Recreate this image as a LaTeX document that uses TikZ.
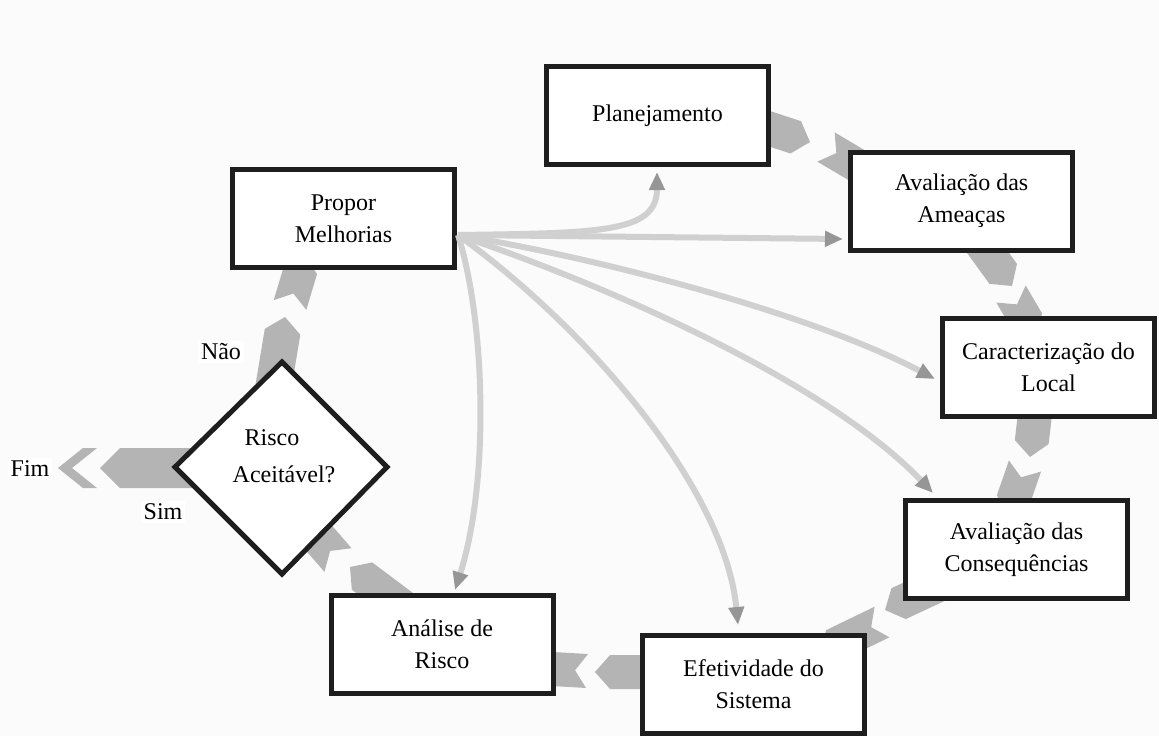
\documentclass[tikz,border=0pt]{standalone}
\usepackage{fontspec}
\setmainfont{Liberation Serif}
\usetikzlibrary{arrows.meta,calc}
\definecolor{bandgray}{RGB}{180,180,180}
\definecolor{fangray}{RGB}{208,208,208}
\definecolor{headgray}{RGB}{150,150,150}
\definecolor{bgcol}{RGB}{251,251,251}
\definecolor{boxline}{RGB}{30,30,30}
% #1 back coordinate, #2 tip coordinate, #3 half width, #4 notch depth, #5 tip length
\newcommand\bandpiece[5]{%
  \path ($(#2)!#5!(#1)$) coordinate (pP);
  \fill[band] ($(#1)!#3!90:(#2)$) -- ($(#1)!#4!(#2)$) -- ($(#1)!#3!-90:(#2)$)
     -- ($(pP)!#3!-90:(#2)$) -- (#2) -- ($(pP)!#3!90:(#2)$) -- cycle;}
\tikzset{
  band/.style={fill=bandgray},
  fan/.style={draw=fangray, line width=6pt, -{Triangle[length=18pt,width=15pt,color=headgray]}},
  box/.style={draw=boxline, line width=5pt, fill=white, minimum width=222pt, minimum height=98pt,
     align=center, font=\fontsize{24}{32}\selectfont, inner sep=0pt},
  lab/.style={fill=white, font=\fontsize{24}{32}\selectfont, inner sep=3pt},
  txt/.style={font=\fontsize{24}{32}\selectfont, inner sep=0pt}
}
\begin{document}
\begin{tikzpicture}[x=1pt,y=-1pt]
\fill[bgcol] (0,0) rectangle (1159,736);
\useasboundingbox (0,0) rectangle (1159,736);

% ---- coordinates for the grey chevron bands
\coordinate (c1a) at (755,124); \coordinate (c1b) at (810,142);
\coordinate (c1c) at (826,147); \coordinate (c1d) at (885,182);
\coordinate (c2a) at (975,235); \coordinate (c2b) at (1012,286);
\coordinate (c2c) at (1011,294); \coordinate (c2d) at (1035,335);
\coordinate (c3a) at (1036,405); \coordinate (c3b) at (1030,457);
\coordinate (c3c) at (1025,466); \coordinate (c3d) at (1008,515);
\coordinate (c4a) at (945,582); \coordinate (c4b) at (885,610);
\coordinate (c4c) at (882,622); \coordinate (c4d) at (820,652);
\coordinate (c5a) at (655,672); \coordinate (c5b) at (595,672);
\coordinate (c5c) at (587,671); \coordinate (c5d) at (535,668);
\coordinate (c6a) at (410,612); \coordinate (c6b) at (350,567);
\coordinate (c6c) at (338,560); \coordinate (c6d) at (305,522);
\coordinate (c7a) at (272,395); \coordinate (c7b) at (285,317);
\coordinate (c7c) at (290,305); \coordinate (c7d) at (305,255);
\coordinate (c8a) at (195,468); \coordinate (c8b) at (100,468);
\coordinate (c8c) at (97,468);  \coordinate (c8d) at (58,468);

\bandpiece{c1a}{c1b}{17pt}{0pt}{15pt}
\bandpiece{c1c}{c1d}{17pt}{12pt}{15pt}
\bandpiece{c2a}{c2b}{17pt}{0pt}{15pt}
\bandpiece{c2c}{c2d}{17pt}{12pt}{15pt}
\bandpiece{c3a}{c3b}{17pt}{0pt}{15pt}
\bandpiece{c3c}{c3d}{17pt}{12pt}{15pt}
\bandpiece{c4a}{c4b}{17pt}{0pt}{15pt}
\bandpiece{c4c}{c4d}{17pt}{12pt}{15pt}
\bandpiece{c5a}{c5b}{17pt}{0pt}{15pt}
\bandpiece{c5c}{c5d}{17pt}{12pt}{15pt}
\bandpiece{c6a}{c6b}{17pt}{0pt}{15pt}
\bandpiece{c6c}{c6d}{18pt}{12pt}{20pt}
\bandpiece{c7a}{c7b}{18pt}{0pt}{15pt}
\bandpiece{c7c}{c7d}{17pt}{12pt}{15pt}
\bandpiece{c8a}{c8b}{20pt}{0pt}{20pt}
\bandpiece{c8c}{c8d}{20pt}{25pt}{25pt}

% ---- boxes
\node[box] (plan) at (657.5,115.5) {Planejamento};
\node[box] (prop) at (343.5,218.5) {Propor\\Melhorias};
\node[box] (amea) at (961.5,201) {Avaliação das\\Ameaças};
\node[box, minimum width=212pt] (local) at (1048.5,367) {Caracterização do\\Local};
\node[box] (cons) at (1016.5,549.5) {Avaliação das\\Consequências};
\node[box] (efet) at (753.5,684) {Efetividade do\\Sistema};
\node[box] (anal) at (442,644) {Análise de\\Risco};

% ---- decision diamond
\coordinate (dL) at (175,467); \coordinate (dT) at (282,362);
\coordinate (dR) at (387,467); \coordinate (dB) at (282,574);
\draw[draw=boxline, line width=5pt, fill=white] (dL) -- (dT) -- (dR) -- (dB) -- cycle;
\node[txt] (risco1) at (272,438) {Risco};
\node[txt] (risco2) at (284,474) {Aceitável?};

% ---- fan of light arrows from Propor Melhorias
\coordinate (fanO) at (458,235);
\coordinate (tPlan) at (657,172);
\coordinate (tAmea) at (843,239);
\coordinate (tLocal) at (935,379);
\coordinate (tCons) at (933,493);
\coordinate (tEfet) at (738,625);
\coordinate (tAnal) at (455,590);
\draw[fan] (fanO) .. controls (600,233) and (657,233) .. (tPlan);
\draw[fan] (fanO) -- (tAmea);
\draw[fan] (fanO) .. controls (620,262) and (820,318) .. (tLocal);
\draw[fan] (fanO) .. controls (620,290) and (830,385) .. (tCons);
\draw[fan] (fanO) .. controls (590,330) and (725,490) .. (tEfet);
\draw[fan] (fanO) .. controls (485,320) and (490,480) .. (tAnal);

% ---- labels
\node[lab] (nao) at (221,352) {Não};
\node[lab] (sim) at (163,512) {Sim};
\node[lab] (fim) at (30,469) {Fim};
\end{tikzpicture}
\end{document}
